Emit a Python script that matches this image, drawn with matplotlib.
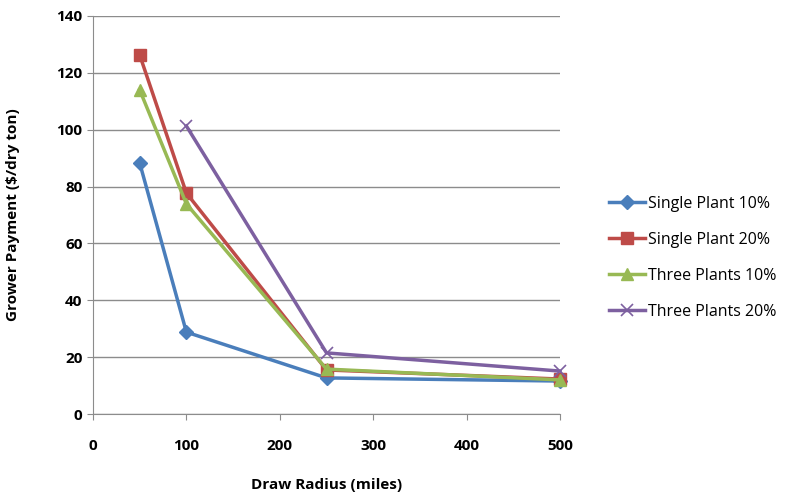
import matplotlib
matplotlib.use("Agg")
import matplotlib.pyplot as plt

radius = [50, 100, 250, 500]
single10 = [88.3, 28.8, 12.7, 11.6]
single20 = [126.3, 77.7, 15.5, 12.3]
three10 = [114.0, 73.9, 15.8, 12.0]
three20_x = [100, 250, 500]
three20 = [101.3, 21.5, 15.1]
labels = ["Single Plant 10%", "Single Plant 20%", "Three Plants 10%", "Three Plants 20%"]
colors = ["#4a7ebb", "#be4b48", "#98b954", "#7d60a0"]

plt.rcParams['font.family'] = ['Open Sans', 'DejaVu Sans']
fig = plt.figure(figsize=(7.86, 4.95), dpi=100)
ax = fig.add_axes([0.1183, 0.1636, 0.5942, 0.8041])

ax.plot(radius, single10, color=colors[0], lw=2.5, marker='D', ms=7, label=labels[0], clip_on=False)
ax.plot(radius, single20, color=colors[1], lw=2.5, marker='s', ms=9, label=labels[1], clip_on=False)
ax.plot(radius, three10, color=colors[2], lw=2.5, marker='^', ms=9, label=labels[2], clip_on=False)
ax.plot(three20_x, three20, color=colors[3], lw=2.5, marker='x', ms=9, mew=1.2, label=labels[3], clip_on=False)

ax.set_xlim(0, 500)
ax.set_ylim(0, 140)
ax.set_xticks([0, 100, 200, 300, 400, 500])
ax.set_yticks(range(0, 141, 20))
ax.grid(axis='y', color='#8c8c8c', lw=1)
ax.set_axisbelow(True)
for s in ['top', 'right']:
    ax.spines[s].set_visible(False)
for s in ['left', 'bottom']:
    ax.spines[s].set_color('#8c8c8c')
ax.tick_params(axis='both', colors='#8c8c8c', labelcolor='black', labelsize=11, length=4, direction='out')
for t in ax.get_xticklabels() + ax.get_yticklabels():
    t.set_fontweight('bold')
ax.tick_params(axis='x', pad=14)
ax.set_xlabel("Draw Radius (miles)", fontsize=11, fontweight='bold', labelpad=18)
ax.set_ylabel("Grower Payment ($/dry ton)", fontsize=11, fontweight='bold', labelpad=26)

fig.legend(loc='center left', bbox_to_anchor=(0.757, 0.479), frameon=False,
           fontsize=11.5, handlelength=2.2, labelspacing=1.25, handletextpad=0.2)

fig.savefig("out.png", dpi=100)
